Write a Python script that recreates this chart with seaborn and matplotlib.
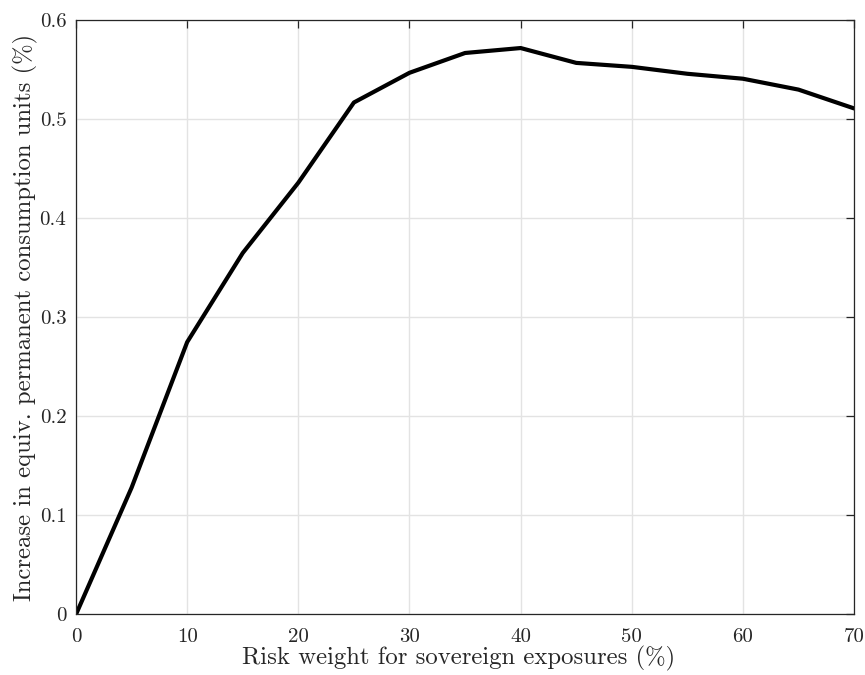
import matplotlib
matplotlib.use("Agg")
import matplotlib.pyplot as plt
import seaborn as sns
import pandas as pd
from matplotlib.ticker import FuncFormatter

# Welfare gain by sovereign risk weight
risk_weight = [0, 5, 10, 15, 20, 25, 30, 35, 40, 45, 50, 55, 60, 65, 70]
welfare_gain = [0.0, 0.128, 0.275, 0.365, 0.436, 0.517, 0.547, 0.567, 0.572,
                0.557, 0.553, 0.546, 0.541, 0.530, 0.511]

x_ticks = [0, 10, 20, 30, 40, 50, 60, 70]
y_ticks = [0, 0.1, 0.2, 0.3, 0.4, 0.5, 0.6]

df = pd.DataFrame({"rw": risk_weight, "gain": welfare_gain})

sns.set_theme(style="white")
plt.rcParams["font.family"] = ["cmr10", "DejaVu Serif"]
plt.rcParams["mathtext.fontset"] = "cm"
plt.rcParams["axes.unicode_minus"] = False

fig = plt.figure(figsize=(8.65, 6.75), dpi=100)
ax = fig.add_axes([0.0879, 0.0899, 0.8995, 0.8800])

sns.lineplot(data=df, x="rw", y="gain", ax=ax, color="black", linewidth=3.0)

ax.set_xlim(0, 70)
ax.set_ylim(0, 0.6)
ax.set_xticks(x_ticks)
ax.set_yticks(y_ticks)
ax.yaxis.set_major_formatter(FuncFormatter(lambda v, p: f"{v:g}"))
ax.xaxis.set_major_formatter(FuncFormatter(lambda v, p: f"{v:g}"))

ax.grid(True, color="#e3e3e3", linewidth=1.0)
ax.set_axisbelow(True)
for s in ax.spines.values():
    s.set_color("#262626")
    s.set_linewidth(0.9)
    s.set_visible(True)

ax.tick_params(axis="both", which="major", direction="in", length=6, width=0.9,
               color="#262626", top=True, right=True, labelsize=15,
               labelcolor="#262626")
ax.tick_params(axis="y", pad=7)
ax.tick_params(axis="x", pad=10)

ax.set_xlabel("Risk weight for sovereign exposures (%)", fontsize=17.8,
              color="#262626")
ax.xaxis.set_label_coords(0.492, -0.054, transform=ax.transAxes)
ax.set_ylabel("Increase in equiv. permanent consumption units (%)", fontsize=17.8,
              color="#262626", labelpad=1)

fig.savefig("out.png", dpi=100, facecolor="white")
